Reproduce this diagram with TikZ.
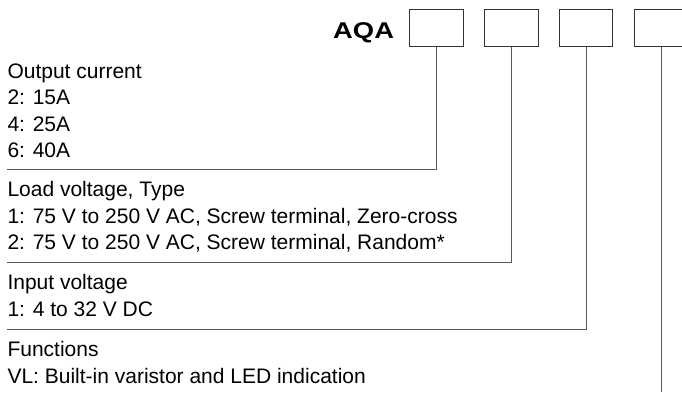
\documentclass[tikz,border=0pt]{standalone}
\usepackage{fontspec}
\setmainfont{Liberation Sans}
\begin{document}
\begin{tikzpicture}[x=1pt,y=-1pt,
  lbl/.style={anchor=base west,inner sep=0pt,font=\fontsize{21}{25}\selectfont},
  codebox/.style={draw=black!80,line width=1pt,minimum width=53.5pt,minimum height=36.7pt,inner sep=0pt},
  lead/.style={draw=black!65,line width=1pt}]
\useasboundingbox (0,0) rectangle (682,392);
\clip (0,0) rectangle (682,392);
\node[anchor=base west,inner sep=0pt,font=\bfseries\fontsize{22.8}{26}\selectfont,xscale=1.2] (aqa) at (333,38) {AQA};
\node[codebox] (b1) at (436.5,27.7) {};
\node[codebox] (b2) at (511.5,27.7) {};
\node[codebox] (b3) at (586.2,27.7) {};
\node[codebox] (b4) at (661,27.7) {};
% labels
\node[lbl] (t1) at (7.3,78) {Output current};
\node[lbl] (t2) at (7.3,104.5) {2: 15A};
\node[lbl] (t3) at (7.3,131) {4: 25A};
\node[lbl] (t4) at (7.3,157) {6: 40A};
\node[lbl] (t5) at (7.3,196.7) {Load voltage, Type};
\node[lbl] (t6) at (7.3,223) {1: 75 V to 250 V AC, Screw terminal, Zero-cross};
\node[lbl] (t7) at (7.3,249.5) {2: 75 V to 250 V AC, Screw terminal, Random*};
\node[lbl] (t8) at (7.3,289.5) {Input voltage};
\node[lbl] (t9) at (7.3,316) {1: 4 to 32 V DC};
\node[lbl] (t10) at (7.3,356.7) {Functions};
\node[lbl] (t11) at (7.3,383) {VL: Built-in varistor and LED indication};
% leaders
\coordinate (s1) at (7,169);
\coordinate (s2) at (7,262);
\coordinate (s3) at (7,329);
\coordinate (e4) at (661,392);
\draw[lead] (s1) -| (b1.south);
\draw[lead] (s2) -| (b2.south);
\draw[lead] (s3) -| (b3.south);
\draw[lead] (b4.south) -- (e4);
\end{tikzpicture}
\end{document}
